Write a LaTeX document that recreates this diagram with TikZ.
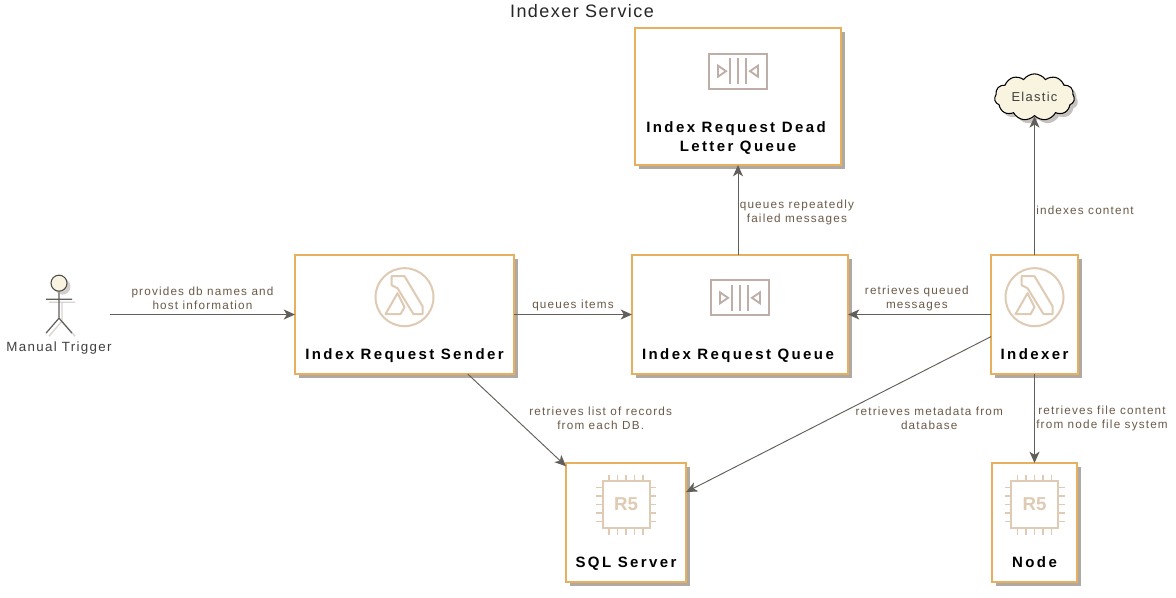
\documentclass[tikz,border=0pt]{standalone}
\usepackage{fontspec}
\setmainfont{Liberation Sans}
\newfontfamily\edgefont[LetterSpace=10]{Liberation Sans}
\newfontfamily\headfont[LetterSpace=8]{Liberation Sans}
\newfontfamily\titlefont[LetterSpace=16,BoldFont={Liberation Sans Bold}]{Liberation Sans}
\usepackage{tikz}
\usetikzlibrary{arrows.meta,positioning,shadows,shapes.symbols}
\definecolor{accent}{HTML}{E6B05F}
\definecolor{shade}{HTML}{A89F98}
\definecolor{cream}{HTML}{F9F4DF}
\definecolor{wire}{HTML}{625E5A}
\definecolor{note}{HTML}{6B5A48}
\definecolor{iconlight}{HTML}{DFCAB3}
\definecolor{icongray}{HTML}{BFAEA8}
\tikzset{
  service/.style={draw=accent, fill=white, line width=1.5pt, outer sep=0pt, minimum height=89.25pt,
    drop shadow={shadow xshift=3.2pt, shadow yshift=-3.2pt, fill=shade, opacity=.9}},
  boxtitle/.style={align=center, inner sep=0pt, text=black, text depth=2.4pt, font=\titlefont\bfseries\fontsize{11.25}{14.25}\selectfont},
  note/.style={align=center, inner ysep=2pt, inner xsep=1pt, text=note, font=\edgefont\fontsize{8.8}{10.5}\selectfont},
  flow/.style={-{Stealth[length=8.5pt, width=7.5pt, inset=2.4pt]}, wire, line width=.7pt},
  cloudy/.style={cloud, cloud puffs=11, cloud puff arc=110, aspect=1.9, draw=black, fill=cream, line width=.8pt, inner sep=0pt,
    minimum width=60pt, minimum height=35pt, text=black!75, font=\edgefont\fontsize{9.7}{11}\selectfont,
    drop shadow={shadow xshift=2.6pt, shadow yshift=-2.6pt, fill=shade!85!black}},
  chiptext/.style={text=iconlight, inner sep=0pt, font=\bfseries\fontsize{14}{14}\selectfont},
  lambdaicon/.pic={
    \draw[iconlight, line width=1.5pt, line join=round] (0,0) circle (29);
    \draw[iconlight, line width=1.5pt, line join=round] (-13,-21) -- (0,-21) -- (18,9) -- (18,17) -- (9,17) -- (-7,-9) -- (-13,-12) -- cycle;
    \draw[iconlight, line width=1.5pt, line join=round] (-7,-4) -- (0,10) -- (-4,17) -- (-19,17) -- cycle;
  },
  queueicon/.pic={
    \draw[icongray, line width=1.5pt] (-29,-17.5) rectangle (29,17.5);
    \foreach \x in {-8,0,8} \draw[icongray, line width=1.4pt] (\x,-13) -- (\x,13);
    \draw[icongray, line width=1.4pt] (-20,-5.5) -- (-12,0) -- (-20,5.5) -- cycle;
    \draw[icongray, line width=1.4pt] (20,-5.5) -- (12,0) -- (20,5.5) -- cycle;
  },
  chipicon/.pic={
    \draw[iconlight, line width=1.5pt] (-23.5,-23.5) rectangle (23.5,23.5);
    \foreach \p in {-17,-8.5,0,8.5,17} {
      \draw[iconlight, line width=1.3pt] (\p,-24) -- (\p,-30) (\p,24) -- (\p,30) (-24,\p) -- (-30,\p) (24,\p) -- (30,\p);
    }
    \node[chiptext] (-tag) at (0,0) {R5};
  },
  actoricon/.pic={
    \draw[shade!45, line width=1pt, shift={(3,3)}] (0,16) -- (0,35) -- (-13,50) (0,35) -- (13,50) (-13,16) -- (13,16);
    \draw[wire, line width=.9pt] (0,8) -- (0,35) -- (-13,50) (0,35) -- (13,50) (-13,16) -- (13,16);
    \draw[black!70, fill=cream, line width=.8pt, drop shadow={shadow xshift=2.6pt, shadow yshift=-2.6pt, fill=shade}] (0,0) circle (8);
  },
}

\begin{document}
\begin{tikzpicture}[x=.75pt, y=-.75pt]
    \useasboundingbox[fill=white] (0,0) rectangle (1176,597);
    \node[font=\headfont\fontsize{13.5}{16}\selectfont, text=black!85, inner sep=0pt] (title) at (582,11) {Indexer Service};

    \node[service, minimum width=164.25pt] (sender) at (404.5,314.5) {};
    \node[service, minimum width=162pt, right=88.5pt of sender] (queue) {};
    \node[service, minimum width=154.5pt, minimum height=102.75pt, above=67.5pt of queue, xshift=-1.5pt] (deadletter) {};
    \node[service, minimum width=65.25pt, right=107.25pt of queue] (indexer) {};
    \node[service, minimum width=90pt, below right=66.75pt and 39pt of sender] (sqlserver) {};
    \node[service, minimum width=63.75pt, below=66.75pt of indexer] (filenode) {};
    \node[cloudy, above=104pt of indexer] (elastic) {Elastic};
    \node[minimum width=76.5pt, minimum height=45pt, inner sep=0pt, outer sep=0pt] (trigger) at (59,314.5) {};
    \node[note, text=black!75, font=\edgefont\fontsize{10}{11}\selectfont, below=-4pt of trigger] (triggerlabel) {Manual Trigger};

    \node[boxtitle, above=8.25pt of sender.south] (sendertitle) {Index Request Sender};
    \node[boxtitle, above=8.25pt of queue.south, xshift=-1.5pt] (queuetitle) {Index Request Queue};
    \node[boxtitle, above=7.5pt of deadletter.south] (deadlettertitle) {Index Request Dead\kern3pt\\ Letter Queue};
    \node[boxtitle, above=8.25pt of indexer.south] (indexertitle) {Indexer};
    \node[boxtitle, above=8.25pt of sqlserver.south] (sqltitle) {SQL Server};
    \node[boxtitle, above=8.25pt of filenode.south] (nodetitle) {Node};

    \pic at ([yshift=13pt]sender.center) {lambdaicon};
    \pic at ([yshift=13pt]indexer.center) {lambdaicon};
    \pic at ([yshift=12.5pt]queue.center) {queueicon};
    \pic at ([yshift=19pt]deadletter.center) {queueicon};
    \pic (sqlchip) at ([yshift=13.5pt]sqlserver.center) {chipicon};
    \pic (nodechip) at ([yshift=13.5pt]filenode.center) {chipicon};
    \pic at ([yshift=23.5pt]trigger.center) {actoricon};

    \draw[flow] (trigger) -- node[note, above, yshift=1.5pt] {provides db names and\\ host information} (sender);
    \draw[flow] (sender) -- node[note, above] {queues items} (queue);
    \draw[flow] (deadletter.south |- queue.north) -- node[note, right, yshift=-2pt] {queues repeatedly\\ failed messages} (deadletter);
    \draw[flow] (indexer) -- node[note, above, xshift=-2pt] {retrieves queued\\ messages} (queue);
    \draw[flow] (indexer) -- node[note, right, pos=.32] {indexes content} (elastic);
    \draw[flow] (sender) -- node[note, right, xshift=8pt, yshift=1.5pt] {retrieves list of records\\ from each DB.} (sqlserver);
    \draw[flow] (indexer) -- node[note, right, pos=.45, yshift=-9pt] {retrieves metadata from\\ database} (sqlserver);
    \draw[flow] (indexer) -- node[note, right] {retrieves file content\\ from node file system} (filenode);
  \end{tikzpicture}
\end{document}
